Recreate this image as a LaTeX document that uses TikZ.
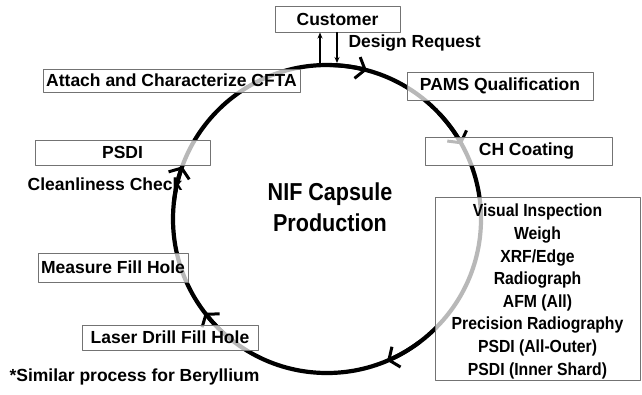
\documentclass[tikz,border=0pt]{standalone}
\usepackage{fontspec}
\setmainfont{Liberation Sans}
\usetikzlibrary{arrows.meta}
\tikzset{
  box/.style={draw=black!55, line width=1pt, fill=white, fill opacity=0.72, text opacity=1, inner sep=0pt},
  ring/.style={line width=4.2pt, black},
  flow/.style={line width=4pt, -{Straight Barb[length=8pt, width=22pt, line width=3pt]}},
  link/.style={line width=1.3pt, -{Stealth[length=6pt, width=5pt]}},
  lbl/.style={font=\fontsize{17.5}{21}\selectfont\bfseries}
}
\begin{document}
\begin{tikzpicture}[x=1pt, y=-1pt, line cap=round, line join=round]
	\useasboundingbox (0,0) rectangle (642,394);
	\def\rad{154}
	\coordinate (c) at (327,219);
	\draw[ring] (c) circle[radius=\rad];
	\foreach \a in {-75,-29,67,142.5,-160}
		\draw[flow] (c) ++(\a-14:\rad) arc[start angle=\a-14, end angle=\a, radius=\rad];
	\node[box, lbl, minimum width=125pt, minimum height=26pt] (cust) at (337.5,19) {Customer};
	\node[lbl, anchor=west] (req) at (345,43) {Design Request};
	\node[box, lbl, minimum width=257pt, minimum height=23pt] (cfta) at (171.5,80.5) {Attach and Characterize CFTA};
	\node[box, lbl, minimum width=186pt, minimum height=28pt] (pams) at (500,86) {PAMS Qualification};
	\node[box, lbl, minimum width=175pt, minimum height=25pt] (psdi) at (122.5,152.5) {PSDI};
	\node[lbl] (clean) at (105,184) {Cleanliness Check};
	\node[box, lbl, minimum width=187pt, minimum height=28pt] (ch) at (518.5,151) {\hspace{16pt}CH Coating};
	\node[box, minimum width=205pt, minimum height=183pt] (insp) at (537.5,288.5) {};
	\node[align=center, yshift=-3pt, font=\fontsize{17.5}{22.6}\selectfont\bfseries\addfontfeature{FakeStretch=0.9}] (insptext) at (insp.center) {Visual Inspection\\Weigh\\XRF/Edge\\Radiograph\\AFM (All)\\Precision Radiography\\PSDI (All-Outer)\\PSDI (Inner Shard)};
	\node[box, lbl, minimum width=150pt, minimum height=29pt] (meas) at (113,267.5) {Measure Fill Hole};
	\node[box, lbl, minimum width=176pt, minimum height=25pt] (laser) at (170,337.5) {Laser Drill Fill Hole};
	\node[lbl, anchor=west] (note) at (6,377) {*Similar process for Beryllium};
	\node[align=center, font=\fontsize{24.5}{31}\selectfont\bfseries\addfontfeature{FakeStretch=0.88}] (title) at (330,207) {NIF Capsule\\Production};
	\coordinate (up) at (320,64);
	\coordinate (down) at (337,63);
	\draw[link] (up) -- (up |- cust.south);
	\draw[link] (down |- cust.south) -- (down);
\end{tikzpicture}
\end{document}
